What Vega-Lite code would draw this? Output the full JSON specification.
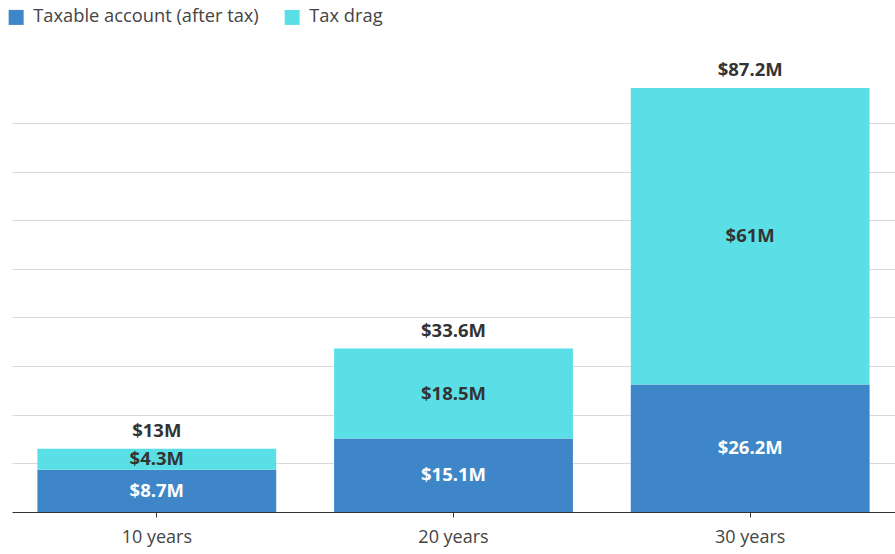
{
  "$schema": "https://vega.github.io/schema/vega-lite/v6.json",
  "autosize": {"type": "none"},
  "width": 883,
  "height": 462,
  "padding": {"left": 12, "top": 50, "right": 0, "bottom": 42},
  "background": "white",
  "config": {"view": {"stroke": null}, "font": "Open Sans"},
  "datasets": {
    "parts": [
      {"period": "10 years", "series": "Taxable account (after tax)", "value": 8.7, "label": "$8.7M"},
      {"period": "10 years", "series": "Tax drag", "value": 4.3, "label": "$4.3M"},
      {"period": "20 years", "series": "Taxable account (after tax)", "value": 15.1, "label": "$15.1M"},
      {"period": "20 years", "series": "Tax drag", "value": 18.5, "label": "$18.5M"},
      {"period": "30 years", "series": "Taxable account (after tax)", "value": 26.2, "label": "$26.2M"},
      {"period": "30 years", "series": "Tax drag", "value": 61, "label": "$61M"}
    ],
    "totals": [
      {"period": "10 years", "total": 13, "label": "$13M"},
      {"period": "20 years", "total": 33.6, "label": "$33.6M"},
      {"period": "30 years", "total": 87.2, "label": "$87.2M"}
    ]
  },
  "encoding": {
    "x": {
      "field": "period", "type": "nominal", "title": null,
      "scale": {"paddingInner": 0.195, "paddingOuter": 0.0856},
      "axis": {"labelAngle": 0, "labelFontSize": 18, "labelColor": "#444", "labelPadding": 11,
               "domainColor": "#333", "domainWidth": 1.2, "tickColor": "#333", "tickSize": 5, "grid": false}
    }
  },
  "layer": [
    {
      "data": {"name": "parts"},
      "mark": {"type": "bar"},
      "encoding": {
        "y": {"field": "value", "type": "quantitative", "stack": "zero", "title": null,
              "scale": {"domain": [0, 95], "nice": false},
              "axis": {"values": [10, 20, 30, 40, 50, 60, 70, 80], "labels": false, "ticks": false, "domain": false,
                       "gridColor": "#d9d9d9", "gridWidth": 1}},
        "color": {"field": "series", "type": "nominal", "title": null,
                  "scale": {"domain": ["Taxable account (after tax)", "Tax drag"], "range": ["#3f86c8", "#5bdfe7"]},
                  "legend": {"orient": "none", "legendX": -5, "legendY": -42, "direction": "horizontal",
                             "symbolType": "square", "symbolSize": 225, "symbolStrokeWidth": 0, "labelLimit": 0,
                             "labelFontSize": 18.3, "labelColor": "#444", "columnPadding": 24, "labelOffset": 8}},
        "order": {"field": "series", "sort": "descending"}
      }
    },
    {
      "data": {"name": "parts"},
      "transform": [
        {"stack": "value", "groupby": ["period"], "sort": [{"field": "series", "order": "descending"}], "as": ["lo", "hi"]},
        {"calculate": "(datum.lo + datum.hi) / 2", "as": "mid"}
      ],
      "mark": {"type": "text", "fontSize": 18.5, "fontWeight": "bold", "baseline": "middle"},
      "encoding": {
        "y": {"field": "mid", "type": "quantitative"},
        "text": {"field": "label"},
        "color": {"condition": {"test": "datum.series === 'Tax drag'", "value": "#333"}, "value": "white"}
      }
    },
    {
      "data": {"name": "totals"},
      "mark": {"type": "text", "fontSize": 18.5, "fontWeight": "bold", "baseline": "middle", "dy": -18, "color": "#333"},
      "encoding": {
        "y": {"field": "total", "type": "quantitative"},
        "text": {"field": "label"}
      }
    }
  ]
}
